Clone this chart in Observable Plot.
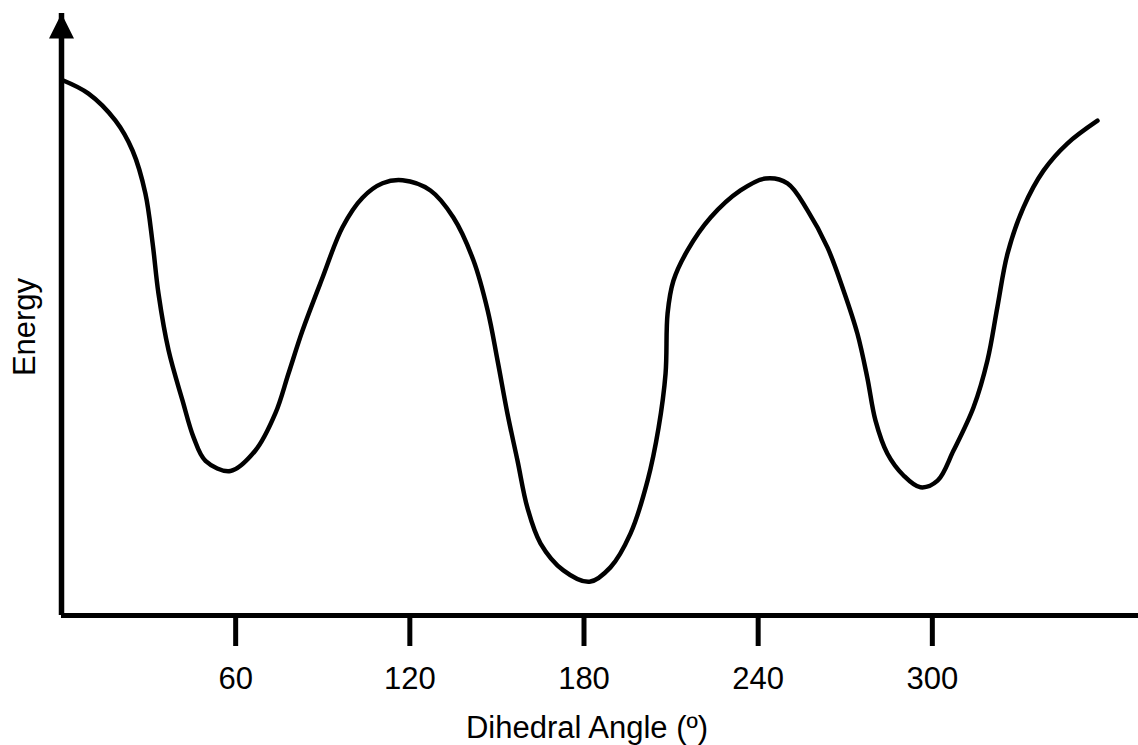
<!DOCTYPE html>
<html>
<head>
<meta charset="utf-8">
<script src="https://cdn.jsdelivr.net/npm/d3@7"></script>
<script src="https://cdn.jsdelivr.net/npm/@observablehq/plot@0.6"></script>
<style>
  html, body { margin: 0; padding: 0; background: #fff; }
  #chart svg { display: block; }
</style>
</head>
<body>
<div id="chart"></div>
<script>
// Dihedral angle (degrees) along the drawn energy curve
const angle = [
  0, 9.3, 18.6, 24.5, 28.9, 31.4, 33.4, 36.9, 41.7, 45.5, 49.6, 58.2,
  66.8, 73.7, 78.2, 83.0, 89.9, 96.8, 103.7, 110.6, 117.5,
  127.1, 135.0, 141.9, 146.8, 150.2, 153.6, 157.1, 160.5, 165.0, 172.9, 181.9,
  189.1, 196.0, 201.9, 205.7, 208.1, 208.8, 210.8, 215.6, 223.6, 233.9, 242.5,
  250.1, 257.0, 263.9, 269.4, 274.2, 277.6, 280.4, 284.5, 290.0, 295.9,
  301.8, 307.3, 314.2, 319.0, 322.4, 325.9, 331.4, 338.3, 346.5, 356.9
];
// Relative energy (arbitrary units, 0 = x axis)
const energy = [
  89.0, 86.7, 82.2, 77.2, 70.1, 61.8, 53.5, 44.0, 35.7, 29.6, 25.7, 24.0,
  27.4, 33.6, 40.2, 47.3, 56.1, 64.5, 69.4, 71.8, 72.3,
  70.6, 66.1, 59.0, 50.7, 42.4, 33.6, 25.7, 17.9, 12.0, 7.5, 5.6,
  8.0, 13.6, 22.4, 31.2, 40.2, 50.2, 55.6, 60.6, 66.1, 70.6, 72.6,
  71.8, 67.3, 61.1, 54.0, 46.8, 39.5, 32.4, 26.9, 23.3, 21.3,
  22.4, 27.4, 34.6, 42.4, 51.2, 60.1, 67.8, 73.9, 78.4, 82.2
];
const tickAngles = [60, 120, 180, 240, 300];
const angleMax = 360;
const energyTop = 100;
const xLabel = "Dihedral Angle (º)";
const yLabel = "Energy";

const curveData = angle.map((a, i) => ({angle: a, energy: energy[i]}));
const arrowTip = [{angle: 0, energy: energyTop}];

// filled arrowhead whose tip sits at the dot position
const arrowHead = {
  draw(ctx, size) {
    const r = Math.sqrt(size / Math.PI);
    ctx.moveTo(0, 0);
    ctx.lineTo(r, 2 * r);
    ctx.lineTo(-r, 2 * r);
    ctx.closePath();
  }
};

const chart = Plot.plot({
  width: 1138,
  height: 745,
  marginLeft: 61,
  marginRight: 0,
  marginTop: 13,
  marginBottom: 130,
  style: {fontFamily: "Arial, 'Liberation Sans', Helvetica, sans-serif", background: "#fff", color: "#000"},
  x: {domain: [0, angleMax], range: [61, 1106]},
  y: {domain: [0, energyTop], range: [615, 13], axis: null},
  marks: [
    Plot.axisX(tickAngles, {tickSize: 31, tickPadding: 20, fontSize: 31, strokeWidth: 5, label: null}),
    Plot.ruleY([0], {strokeWidth: 5, stroke: "#000"}),
    Plot.ruleX([0], {strokeWidth: 5.5, stroke: "#000"}),
    Plot.dot(arrowTip, {x: "angle", y: "energy", symbol: arrowHead, r: 12.5, fill: "#000", stroke: null}),
    Plot.line(curveData, {x: "angle", y: "energy", curve: "catmull-rom", strokeWidth: 4.5, stroke: "#000"}),
    Plot.text([xLabel], {frameAnchor: "bottom", textAnchor: "middle", lineAnchor: "bottom", dx: -13, dy: 122, fontSize: 31, fill: "#000"}),
    Plot.text([yLabel], {frameAnchor: "left", textAnchor: "middle", lineAnchor: "middle", rotate: -90, dx: -36, dy: 12.5, fontSize: 31, fill: "#000"})
  ]
});
document.getElementById("chart").appendChild(chart);
</script>
</body>
</html>
